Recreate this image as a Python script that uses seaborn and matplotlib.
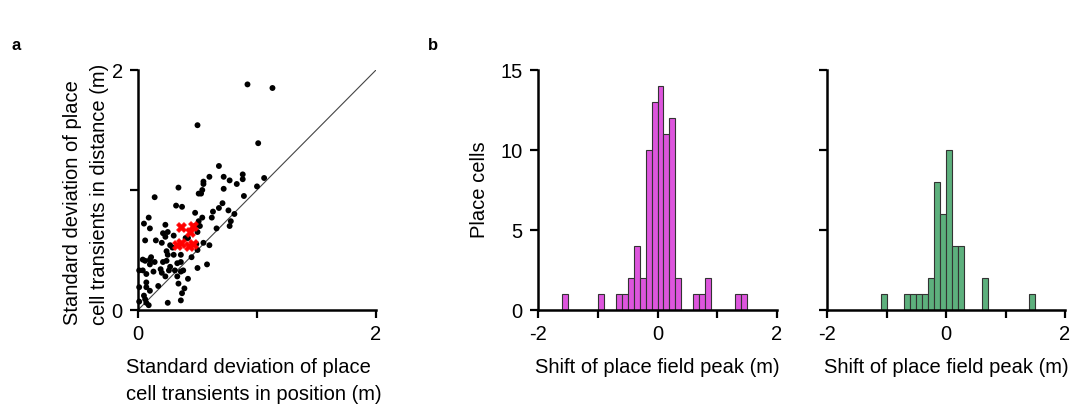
import numpy as np
import pandas as pd
import matplotlib
matplotlib.use("Agg")
import matplotlib.pyplot as plt
import seaborn as sns

# ---------------- data ----------------
# Panel a: SD in position (x) vs SD in distance (y), metres
pos_sd = [0.92, 1.13, 0.50, 1.01, 0.68, 1.06, 1.00, 0.88, 0.88, 0.83, 0.77, 0.72, 0.60,
          0.55, 0.55, 0.72, 0.54, 0.51, 0.53, 0.89, 0.34, 0.14, 0.32, 0.37, 0.71, 0.68,
          0.63, 0.76, 0.81, 0.48, 0.54, 0.62, 0.51, 0.78, 0.77, 0.66, 0.52, 0.48, 0.09,
          0.05, 0.10, 0.23, 0.21, 0.25, 0.23, 0.30, 0.50, 0.06, 0.15, 0.20, 0.27, 0.49,
          0.55, 0.60, 0.50, 0.36, 0.30, 0.24, 0.25, 0.24, 0.21, 0.33, 0.36, 0.04, 0.06,
          0.10, 0.11, 0.10, 0.14, 0.01, 0.04, 0.07, 0.13, 0.19, 0.20, 0.23, 0.27, 0.26,
          0.31, 0.36, 0.38, 0.42, 0.33, 0.50, 0.58, 0.01, 0.07, 0.07, 0.17, 0.10, 0.39,
          0.34, 0.37, 0.36, 0.25, 0.01, 0.06, 0.07, 0.09, 0.05, 0.40, 0.45, 0.29, 0.42]
dist_sd = [1.88, 1.85, 1.54, 1.39, 1.20, 1.10, 1.03, 1.13, 1.09, 1.05, 1.08, 1.11, 1.11,
           1.07, 1.05, 1.01, 1.00, 0.97, 0.97, 0.95, 1.02, 0.94, 0.87, 0.86, 0.89, 0.85,
           0.82, 0.83, 0.80, 0.81, 0.77, 0.77, 0.74, 0.74, 0.70, 0.68, 0.70, 0.70, 0.77,
           0.72, 0.68, 0.71, 0.64, 0.65, 0.61, 0.62, 0.65, 0.58, 0.58, 0.56, 0.54, 0.55,
           0.56, 0.54, 0.50, 0.46, 0.46, 0.49, 0.46, 0.41, 0.40, 0.39, 0.40, 0.42, 0.41,
           0.42, 0.44, 0.38, 0.40, 0.33, 0.33, 0.30, 0.32, 0.34, 0.31, 0.28, 0.36, 0.33,
           0.33, 0.32, 0.33, 0.26, 0.28, 0.35, 0.38, 0.19, 0.23, 0.19, 0.20, 0.16, 0.18,
           0.22, 0.14, 0.08, 0.06, 0.07, 0.09, 0.06, 0.04, 0.12, 0.60, 0.44, 0.52, 0.60]
red_pos = [0.36, 0.46, 0.44, 0.33, 0.36, 0.43, 0.46]
red_dist = [0.69, 0.70, 0.65, 0.54, 0.56, 0.53, 0.55]

# Panel b: histogram bin centres (m) and counts
bin_centers = [-1.55, -1.45, -1.35, -1.25, -1.15, -1.05, -0.95, -0.85, -0.75, -0.65,
               -0.55, -0.45, -0.35, -0.25, -0.15, -0.05, 0.05, 0.15, 0.25, 0.35, 0.45,
               0.55, 0.65, 0.75, 0.85, 0.95, 1.05, 1.15, 1.25, 1.35, 1.45]
counts_magenta = [1, 0, 0, 0, 0, 0, 1, 0, 0, 1, 1, 2, 4, 2, 10, 13, 14, 11, 12, 2, 0,
                  0, 1, 1, 2, 0, 0, 0, 0, 1, 1]
counts_green = [0, 0, 0, 0, 0, 1, 0, 0, 0, 1, 1, 1, 1, 2, 8, 6, 10, 4, 4, 0, 0,
                0, 2, 0, 0, 0, 0, 0, 0, 0, 1]
bin_edges = [round(-2.0 + 0.1 * i, 2) for i in range(41)]

# ---------------- style ----------------
sns.set_theme(style="white")
plt.rcParams["font.family"] = ["Liberation Sans", "DejaVu Sans"]
plt.rcParams["axes.linewidth"] = 1.8
plt.rcParams["xtick.major.width"] = 1.6
plt.rcParams["ytick.major.width"] = 1.6
plt.rcParams["xtick.major.size"] = 6
plt.rcParams["ytick.major.size"] = 6
plt.rcParams["xtick.direction"] = "out"
plt.rcParams["ytick.direction"] = "out"

fig = plt.figure(figsize=(10.72, 4.05), dpi=100)
W, H = 1072, 405

def add_ax(x0, x1, y0, y1):
    return fig.add_axes([x0 / W, 1 - y1 / H, (x1 - x0) / W, (y1 - y0) / H])

FS = 14.5

def style_ax(ax):
    sns.despine(ax=ax)
    for s in ("left", "bottom"):
        ax.spines[s].set_color("black")
    ax.tick_params(axis="both", colors="black", labelsize=FS, pad=5,
                   bottom=True, left=True)

# ---- panel a ----
ax1 = add_ax(138, 376, 70, 310)
df_a = pd.DataFrame({"pos": pos_sd, "dist": dist_sd})
ax1.plot([0, 2], [0, 2], color="#444444", lw=0.8, zorder=1)
sns.scatterplot(data=df_a, x="pos", y="dist", ax=ax1, color="black", s=18,
                edgecolor="none", clip_on=False, zorder=2)
df_r = pd.DataFrame({"pos": red_pos, "dist": red_dist})
sns.scatterplot(data=df_r, x="pos", y="dist", ax=ax1, color="red", s=50,
                marker="X", edgecolor="red", linewidth=0.5, zorder=3)
ax1.set_xlim(0, 2)
ax1.set_ylim(0, 2)
ax1.set_xticks([0, 1, 2])
ax1.set_xticklabels(["0", "", "2"])
ax1.set_yticks([0, 1, 2])
ax1.set_yticklabels(["0", "", "2"])
style_ax(ax1)
ax1.set_xlabel("Standard deviation of place\ncell transients in position (m)",
               fontsize=FS, color="black", labelpad=10, linespacing=1.5,
               multialignment="left")
ax1.xaxis.set_label_coords(0.487, -0.2)
ax1.xaxis.label.set_va("top")
ax1.set_ylabel("Standard deviation of place\ncell transients in distance (m)",
               fontsize=FS, color="black", labelpad=2, linespacing=1.5,
               multialignment="left")
ax1.yaxis.label.set_y(0.483)

# ---- panel b ----
def hist_panel(x0, x1, counts, color, show_ylabels):
    ax = add_ax(x0, x1, 70, 310)
    df = pd.DataFrame({"shift": bin_centers, "n": counts})
    sns.histplot(data=df, x="shift", weights="n", bins=bin_edges, ax=ax,
                 color=color, alpha=1.0, edgecolor="#333333", linewidth=0.8)
    ax.set_xlim(-2, 2)
    ax.set_ylim(0, 15)
    ax.set_xticks([-2, -1, 0, 1, 2])
    ax.set_xticklabels(["-2", "", "0", "", "2"])
    ax.set_yticks([0, 5, 10, 15])
    if show_ylabels:
        ax.set_yticklabels(["0", "5", "10", "15"])
        ax.set_ylabel("Place cells", fontsize=FS, color="black", labelpad=8)
    else:
        ax.set_yticklabels([])
        ax.set_ylabel("")
    style_ax(ax)
    ax.set_xlabel("Shift of place field peak (m)", fontsize=FS, color="black",
                  labelpad=10)
    return ax

hist_panel(538, 777, counts_magenta, "#DD55DD", True)
hist_panel(827, 1065, counts_green, "#5DB07D", False)

fig.text(12 / W, 1 - 50 / H, "a", fontsize=12, fontweight="bold", color="black")
fig.text(428 / W, 1 - 50 / H, "b", fontsize=12, fontweight="bold", color="black")

fig.savefig("out.png", dpi=100)
